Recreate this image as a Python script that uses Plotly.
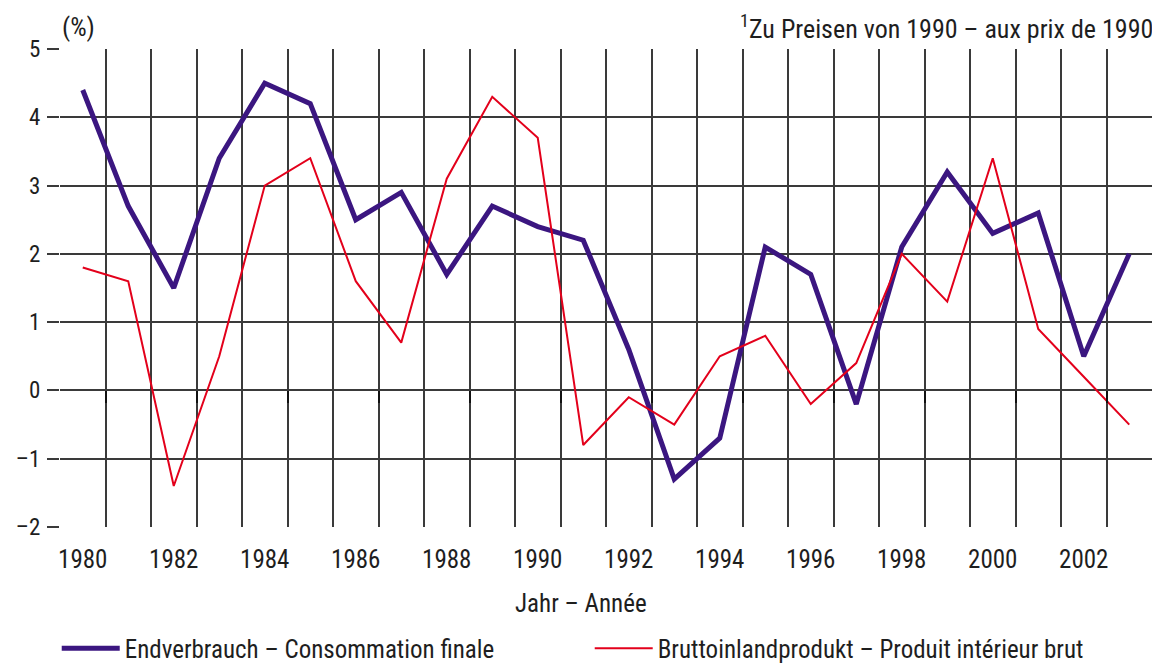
import plotly.graph_objects as go

years = list(range(1980, 2004))
endverbrauch = [4.4, 2.7, 1.5, 3.4, 4.5, 4.2, 2.5, 2.9, 1.7, 2.7, 2.4, 2.2,
                0.6, -1.3, -0.7, 2.1, 1.7, -0.2, 2.1, 3.2, 2.3, 2.6, 0.5, 2.0]
bip = [1.8, 1.6, -1.4, 0.5, 3.0, 3.4, 1.6, 0.7, 3.1, 4.3, 3.7, -0.8,
       -0.1, -0.5, 0.5, 0.8, -0.2, 0.4, 2.0, 1.3, 3.4, 0.9, 0.2, -0.5]
x_ticks = list(range(1980, 2003, 2))
y_ticks = [-2, -1, 0, 1, 2, 3, 4, 5]
y_ticktext = ["–2", "–1", "0", "1", "2", "3", "4", "5"]
grid_x = [y + 0.5 for y in range(1979, 2004)]
zero_ticks = [y + 0.5 for y in range(1980, 2003, 2)]

FONT = "Liberation Sans Narrow, Arial Narrow, Roboto Condensed, Lato, sans-serif"
TXT = "#1e1e1e"
GRID = "#3a3a3a"

fig = go.Figure()
fig.add_trace(go.Scatter(x=years, y=endverbrauch, mode="lines",
                         name="Endverbrauch – Consommation finale",
                         line=dict(color="#3b1680", width=5)))
fig.add_trace(go.Scatter(x=years, y=bip, mode="lines",
                         name="Bruttoinlandprodukt – Produit intérieur brut",
                         line=dict(color="#e3001b", width=2)))
# helper traces that activate the overlay axes
fig.add_trace(go.Scatter(x=[None], y=[None], xaxis="x2", showlegend=False))
fig.add_trace(go.Scatter(x=[None], y=[None], xaxis="x3", showlegend=False))

fig.update_layout(
    width=1152, height=664,
    margin=dict(l=60, r=0, t=49, b=137, autoexpand=False),
    paper_bgcolor="white", plot_bgcolor="white",
    font=dict(family=FONT, size=24, color=TXT),
    showlegend=True,
    legend=dict(orientation="h", x=-0.003, xanchor="left",
                y=-0.254, yanchor="middle",
                font=dict(size=25, color=TXT), itemwidth=58,
                entrywidth=460, entrywidthmode="pixels",
                bgcolor="rgba(0,0,0,0)"),
    xaxis=dict(range=[1979.5, 2003.5], tickmode="array", tickvals=grid_x,
               showticklabels=False, ticks="", showgrid=True, gridcolor=GRID,
               gridwidth=1.5, zeroline=False, showline=False, layer="below traces"),
    xaxis2=dict(range=[1979.5, 2003.5], overlaying="x", anchor="y", side="bottom",
                tickmode="array", tickvals=x_ticks, ticktext=[str(v) for v in x_ticks],
                showgrid=False, ticks="", zeroline=False, showline=False,
                ticklabelstandoff=15, tickfont=dict(size=25, color=TXT)),
    xaxis3=dict(range=[1979.5, 2003.5], overlaying="x", anchor="free",
                position=2/7, side="bottom", tickmode="array", tickvals=zero_ticks,
                showticklabels=False, ticks="outside", ticklen=12, tickwidth=2,
                tickcolor="#111", showgrid=False, zeroline=False, showline=False),
    yaxis=dict(range=[-2, 5], tickmode="array", tickvals=y_ticks, ticktext=y_ticktext,
               showgrid=True, gridcolor=GRID, gridwidth=1.5, zeroline=True,
               zerolinecolor=GRID, zerolinewidth=1.5, ticks="outside", ticklen=12,
               tickwidth=1.5, tickcolor=GRID, ticklabelstandoff=2,
               tickfont=dict(size=23, color=TXT), showline=False),
    annotations=[
        dict(text="(%)", xref="paper", yref="paper", x=0.0, y=1.046,
             xanchor="left", yanchor="middle", showarrow=False,
             font=dict(size=26, color=TXT)),
        dict(text="<sup>1</sup>Zu Preisen von 1990 – aux prix de 1990", xref="paper",
             yref="paper", x=1.0, y=1.046, xanchor="right", yanchor="middle",
             xshift=3, showarrow=False, font=dict(size=26, color=TXT)),
        dict(text="Jahr – Année", xref="paper", yref="paper", x=0.477, y=-0.159,
             xanchor="center", yanchor="middle", showarrow=False,
             font=dict(size=25, color=TXT)),
    ],
)

fig.write_html("out.html", config={"displayModeBar": False},
               post_script="document.body.style.margin='0';document.body.style.padding='0';")
